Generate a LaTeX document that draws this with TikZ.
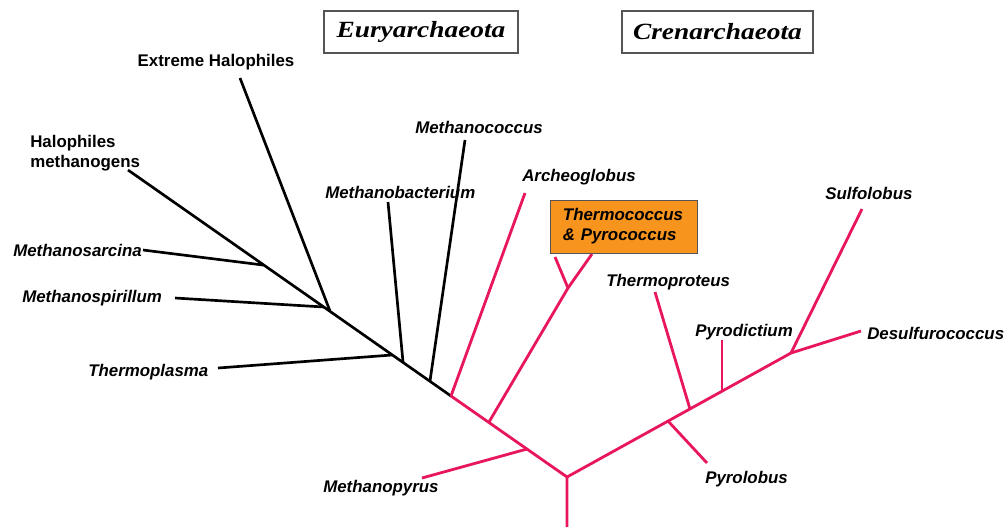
\documentclass[tikz,border=0pt]{standalone}
\usepackage{fontspec}
\usepackage{xcolor}
\usepackage{tikz}
\usetikzlibrary{positioning}
\newfontfamily\lblfont{Liberation Sans}
\newfontfamily\kingfont[FakeStretch=1.18]{Liberation Serif}
\definecolor{crenpink}{HTML}{E8175D}
\definecolor{boxorange}{HTML}{F7941D}
\definecolor{framegray}{HTML}{555555}
\tikzset{
  eury/.style    ={draw=black, line width=1.9pt},
  cren/.style    ={draw=crenpink, line width=2pt},
  sp/.style      ={font=\lblfont\fontsize{12}{14.2}\selectfont\bfseries\itshape,
                   inner sep=0pt, anchor=west},
  grp/.style     ={font=\lblfont\fontsize{12}{14.2}\selectfont\bfseries, inner sep=0pt},
  kingdom/.style ={draw=framegray, line width=0.9pt, inner sep=0pt,
                   font=\kingfont\fontsize{16.5}{18}\selectfont\bfseries\itshape,
                   minimum height=1.05cm},
  hilite/.style  ={sp, anchor=center, draw=framegray, fill=boxorange, line width=0.7pt,
                   align=left, text width=3.05cm, minimum width=3.65cm,
                   minimum height=1.325cm},
}

\begin{document}
\begin{tikzpicture}[x=0.025cm,y=-0.025cm]
  \useasboundingbox (0,0) rectangle (1008,529);

  % kingdoms
  \node[kingdom,minimum width=4.85cm] (eurya) at (421,32) {Euryarchaeota};
  \node[kingdom,minimum width=4.78cm] (crena) at (717.5,32) {Crenarchaeota};

  % junctions and tips
  \coordinate (root) at (567,477);
  \coordinate (base) at (567,527);
  \coordinate (jmpy) at (527,449);
  \coordinate (jtco) at (489,422);
  \coordinate (jarc) at (451,396);
  \coordinate (jmco) at (430,381);
  \coordinate (jmba) at (403,362);
  \coordinate (jtpl) at (392,355);
  \coordinate (jexh) at (330,311);
  \coordinate (jmsp) at (324,307);
  \coordinate (jmsa) at (263,265);
  \coordinate (thal) at (128,170);
  \coordinate (tmco) at (465,140);
  \coordinate (tmba) at (388,202);
  \coordinate (ttpl) at (218,368);
  \coordinate (texh) at (240,78);
  \coordinate (tmsp) at (175,298);
  \coordinate (tmsa) at (143,250);
  \coordinate (tmpy) at (422,478);
  \coordinate (jtc2) at (568,288);
  \coordinate (ttc1) at (555,257);
  \coordinate (ttc2) at (592,254);
  \coordinate (tarc) at (525,193);
  \coordinate (jplo) at (668,421);
  \coordinate (jtpr) at (690,409);
  \coordinate (jpdi) at (722,391);
  \coordinate (jsul) at (791,353);
  \coordinate (tplo) at (707,463);
  \coordinate (ttpr) at (655,292);
  \coordinate (tpdi) at (722,340);
  \coordinate (tsul) at (862,209);
  \coordinate (tdes) at (861,331);

  % black branches
  \draw[eury] (jarc) -- (thal);
  \draw[eury] (jmco) -- (tmco);
  \draw[eury] (jmba) -- (tmba);
  \draw[eury] (jtpl) -- (ttpl);
  \draw[eury] (jexh) -- (texh);
  \draw[eury] (jmsp) -- (tmsp);
  \draw[eury] (jmsa) -- (tmsa);

  % pink branches
  \draw[cren] (base) -- (root) -- (jarc);
  \draw[cren] (root) -- (jsul) -- (tdes);
  \draw[cren] (jmpy) -- (tmpy);
  \draw[cren] (jtco) -- (jtc2) -- (ttc2);
  \draw[cren] (jtc2) -- (ttc1);
  \draw[cren] (jarc) -- (tarc);
  \draw[cren] (jplo) -- (tplo);
  \draw[cren] (jtpr) -- (ttpr);
  \draw[cren] (jpdi) -- (tpdi);
  \draw[cren] (jsul) -- (tsul);

  % labels
  \node[grp] (exhalo) at (216,62) {Extreme Halophiles};
  \node[grp,anchor=west,align=left] (hameth) at (30,153) {Halophiles\\methanogens};
  \node[sp] (msarc) at (13,250) {Methanosarcina};
  \node[sp] (mspir) at (22,298) {Methanospirillum};
  \node[sp] (tplas) at (88,372) {Thermoplasma};
  \node[sp] (mbact) at (325,192) {Methanobacterium};
  \node[sp] (mcocc) at (415,127) {Methanococcus};
  \node[sp] (archg) at (522,177) {Archeoglobus};
  \node[hilite] (tcocc) at (624,226.5) {Thermococcus\\\& Pyrococcus};
  \node[sp] (tprot) at (606,282) {Thermoproteus};
  \node[sp] (pdict) at (695,332) {Pyrodictium};
  \node[sp] (dsulf) at (867,333) {Desulfurococcus};
  \node[sp] (sulfo) at (825,193) {Sulfolobus};
  \node[sp] (plobu) at (705,479) {Pyrolobus};
  \node[sp] (mpyru) at (323,488) {Methanopyrus};
\end{tikzpicture}
\end{document}
